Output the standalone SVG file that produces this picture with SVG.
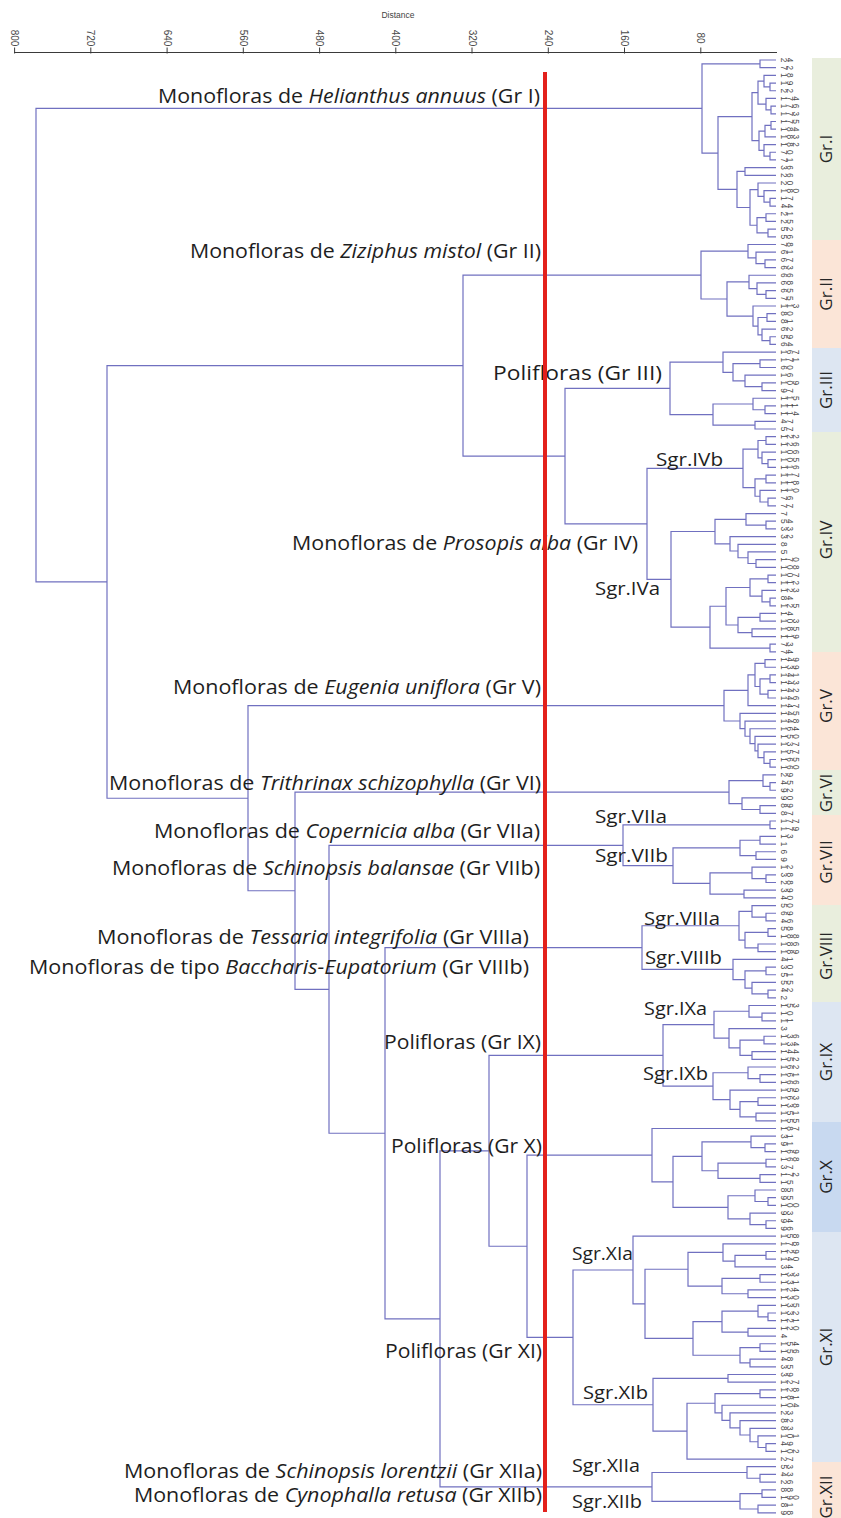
<svg xmlns="http://www.w3.org/2000/svg" width="841" height="1518" viewBox="0 0 841 1518">
<style>
.t{fill:none;stroke:#7070c0;stroke-width:1.2;vector-effect:non-scaling-stroke;stroke-linejoin:miter}
.lb{font-family:"Open Sans","Liberation Sans",sans-serif;font-size:20px;fill:#1e1e1e}
.sg{font-family:"Open Sans","Liberation Sans",sans-serif;font-size:19px;fill:#1e1e1e}
.it{font-style:italic}
.ax{font-family:"Liberation Sans",Arial,sans-serif;font-size:10px;fill:#4a4a4a}
.lf{font-family:"Liberation Sans",Arial,sans-serif;font-size:8.2px;fill:#484848;letter-spacing:1.5px}
.bt{font-family:"Open Sans","Liberation Sans",sans-serif;font-size:17px;fill:#262626}
.green{fill:#e9eedd}.peach{fill:#fbe5d7}.blue{fill:#dde6f2}.blue2{fill:#c8d9f0}
</style>
<rect width="841" height="1518" fill="#ffffff"/>
<g id="axis">
<text x="398" y="18" text-anchor="middle" style="font-family:'Liberation Sans',Arial,sans-serif;font-size:8.5px;fill:#444">Distance</text>
<path d="M14 52.5H777" stroke="#3a3a3a" stroke-width="1.2" fill="none"/>
<path d="M14.6 47.5V53.5M90.8 47.5V53.5M167.1 47.5V53.5M243.3 47.5V53.5M319.6 47.5V53.5M395.8 47.5V53.5M472 47.5V53.5M548.3 47.5V53.5M624.5 47.5V53.5M700.8 47.5V53.5" stroke="#3a3a3a" stroke-width="1" fill="none"/>
<text class="ax" text-anchor="middle" dominant-baseline="central" transform="translate(14.6,38) rotate(90)">800</text>
<text class="ax" text-anchor="middle" dominant-baseline="central" transform="translate(90.8,38) rotate(90)">720</text>
<text class="ax" text-anchor="middle" dominant-baseline="central" transform="translate(167.1,38) rotate(90)">640</text>
<text class="ax" text-anchor="middle" dominant-baseline="central" transform="translate(243.3,38) rotate(90)">560</text>
<text class="ax" text-anchor="middle" dominant-baseline="central" transform="translate(319.6,38) rotate(90)">480</text>
<text class="ax" text-anchor="middle" dominant-baseline="central" transform="translate(395.8,38) rotate(90)">400</text>
<text class="ax" text-anchor="middle" dominant-baseline="central" transform="translate(472,38) rotate(90)">320</text>
<text class="ax" text-anchor="middle" dominant-baseline="central" transform="translate(548.3,38) rotate(90)">240</text>
<text class="ax" text-anchor="middle" dominant-baseline="central" transform="translate(624.5,38) rotate(90)">160</text>
<text class="ax" text-anchor="middle" dominant-baseline="central" transform="translate(700.8,38) rotate(90)">80</text>
</g>
<g id="bands">
<g id="band-I"><rect class="green" x="812" y="58" width="29" height="182"/><text class="bt" text-anchor="middle" transform="translate(832,149) rotate(-90)">Gr.I</text></g>
<g id="band-II"><rect class="peach" x="812" y="240" width="29" height="108"/><text class="bt" text-anchor="middle" transform="translate(832,294) rotate(-90)">Gr.II</text></g>
<g id="band-III"><rect class="blue" x="812" y="348" width="29" height="84"/><text class="bt" text-anchor="middle" transform="translate(832,390) rotate(-90)">Gr.III</text></g>
<g id="band-IV"><rect class="green" x="812" y="432" width="29" height="220"/><text class="bt" text-anchor="middle" transform="translate(832,540) rotate(-90)">Gr.IV</text></g>
<g id="band-V"><rect class="peach" x="812" y="652" width="29" height="118"/><text class="bt" text-anchor="middle" transform="translate(832,706) rotate(-90)">Gr.V</text></g>
<g id="band-VI"><rect class="green" x="812" y="770" width="29" height="45"/><text class="bt" text-anchor="middle" transform="translate(832,793) rotate(-90)">Gr.VI</text></g>
<g id="band-VII"><rect class="peach" x="812" y="815" width="29" height="90"/><text class="bt" text-anchor="middle" transform="translate(832,862) rotate(-90)">Gr.VII</text></g>
<g id="band-VIII"><rect class="green" x="812" y="905" width="29" height="97"/><text class="bt" text-anchor="middle" transform="translate(832,956) rotate(-90)">Gr.VIII</text></g>
<g id="band-IX"><rect class="blue" x="812" y="1002" width="29" height="120"/><text class="bt" text-anchor="middle" transform="translate(832,1062) rotate(-90)">Gr.IX</text></g>
<g id="band-X"><rect class="blue2" x="812" y="1122" width="29" height="110"/><text class="bt" text-anchor="middle" transform="translate(832,1177) rotate(-90)">Gr.X</text></g>
<g id="band-XI"><rect class="blue" x="812" y="1232" width="29" height="230"/><text class="bt" text-anchor="middle" transform="translate(832,1347) rotate(-90)">Gr.XI</text></g>
<g id="band-XII"><rect class="peach" x="812" y="1462" width="29" height="56"/><text class="bt" text-anchor="middle" transform="translate(832,1497) rotate(-90)">Gr.XII</text></g>
</g>
<g id="connectors" transform="translate(0,60) scale(1,7.687)">
<path id="tree-GrI" class="t" d="M776 0H760V1H776M776 3H770V4H776M776 2H764V3.5H770M776 6H771V7H776M776 5H766V6.5H771M764 2.75H758V5.75H766M776 8H771V9H776M771 8.5H765V10H776M776 12H770V13H776M776 11H764V12.5H770M765 9.25H759V11.75H764M758 4.25H752V10.5H759M776 14H745V15H776M776 18H770V19H776M776 17H764V18.5H770M776 16H758V17.75H764M776 20H766V21H776M776 22H768V23H776M766 20.5H757V22.5H768M758 16.875H750V21.5H757M745 14.5H737V19.19H750M752 7.375H718V16.84H737M760 0.5H702V12.11H718"/>
<path id="tree-GrII" class="t" d="M776 26H765V27H776M776 25H756V26.5H765M776 24H748V25.75H756M776 30H766V31H776M776 29H757V30.5H766M776 28H749V29.75H757M776 33H767V34H776M776 36H770V37H776M776 35H762V36.5H770M767 33.5H758V35.75H762M776 32H753V34.625H758M749 28.875H727V33.3125H753M748 24.875H701V31.094H727"/>
<path id="tree-GrIII" class="t" d="M776 39H760V40H776M776 42H762V43H776M776 41H745V42.5H762M760 39.5H733V41.75H745M776 38H723V40.625H733M776 45H765V46H776M776 44H753V45.5H765M776 47H755V48H776M753 44.75H713V47.5H755M723 39.3125H670V46.125H713"/>
<path id="tree-GrIV" class="t" d="M776 49H766V50H776M776 52H768V53H776M776 51H762V52.5H768M766 49.5H758V51.75H762M776 54H766V55H776M776 57H768V58H776M776 56H760V57.5H768M766 54.5H755V56.75H760M758 50.625H743V55.625H755M776 60H766V61H776M776 59H746V60.5H766M776 65H756V66H776M776 64H748V65.5H756M776 63H738V64.75H748M776 62H730V63.875H738M746 59.75H715V62.9375H730M776 67H768V68H776M776 70H770V71H776M776 69H762V70.5H770M768 67.5H750V69.75H762M776 72H760V73H776M776 74H752V75H776M760 72.5H738V74.5H752M750 68.625H726V73.5H738M776 76H770V77H776M726 71.0625H710V76.5H770M715 61.34H671V73.78H710M743 53.125H647V67.56H671"/>
<path id="tree-GrV" class="t" d="M776 78H765V79H776M776 80H770V81H776M776 82H768V83H776M770 80.5H760V82.5H768M765 78.5H755V81.5H760M755 80H748V84H776M776 91H770V92H776M776 90H764V91.5H770M776 89H758V90.75H764M776 88H755V89.875H758M776 87H750V88.9375H755M776 86H745V87.97H750M776 85H740V86.985H745M748 82H724V85.99H740"/>
<path id="tree-GrVI" class="t" d="M776 94H770V95H776M776 93H763V94.5H770M776 97H760V98H776M776 96H742V97.5H760M763 93.75H729V96.75H742"/>
<path id="tree-GrVII" class="t" d="M776 99H770V100H776M776 101H760V102H776M776 103H756V104H776M760 101.5H740V103.5H756M776 106H766V107H776M776 105H752V106.5H766M776 108H744V109H776M752 105.75H710V108.5H744M740 102.5H673V107.125H710M770 99.5H623V104.81H673"/>
<path id="tree-GrVIII" class="t" d="M776 111H766V112H776M776 110H752V111.5H766M776 113H768V114H776M776 115H758V116H776M768 113.5H745V115.5H758M752 110.75H739V114.5H745M776 118H766V119H776M776 121H768V122H776M776 120H752V121.5H768M766 118.5H745V120.75H752M776 117H733V119.625H745M739 112.625H642V118.31H733"/>
<path id="tree-GrIX" class="t" d="M776 124H762V125H776M776 123H749V124.5H762M776 127H764V128H776M776 129H752V130H776M764 127.5H740V129.5H752M776 126H729V128.5H740M749 123.75H714V127.25H729M776 132H760V133H776M776 131H748V132.5H760M776 135H758V136H776M776 137H756V138H776M758 135.5H740V137.5H756M776 134H730V136.5H740M748 131.75H713V135.25H730M714 125.5H663V133.5H713"/>
<path id="tree-GrX" class="t" d="M776 141H765V142H776M776 140H751V141.5H765M776 143H766V144H776M776 145H760V146H776M766 143.5H718V145.5H760M751 140.75H702V144.5H718M776 148H768V149H776M776 147H755V148.5H768M776 151H766V152H776M776 150H750V151.5H766M755 147.75H728V150.75H750M702 142.625H673V149.25H728M776 139H652V145.94H673"/>
<path id="tree-GrXI" class="t" d="M776 155H766V156H776M766 155.5H735V157H776M776 154H723V156.25H735M776 158H760V159H776M776 160H748V161H776M760 158.5H722V160.5H748M723 155.125H688V159.5H722M776 163H768V164H776M776 162H758V163.5H768M776 165H748V166H776M758 162.75H722V165.5H748M776 167H760V168H776M776 169H750V170H776M760 167.5H740V169.5H750M722 164.125H693V168.5H740M688 157.31H645V166.31H693M776 153H633V161.81H645M776 171H728V172H776M776 180H766V181H776M776 179H758V180.5H766M776 178H750V179.75H758M776 177H740V178.875H750M776 176H730V177.94H740M776 175H722V176.97H730M776 173H760V174H776M760 173.5H715V175.985H722M715 174.74H687V182H776M728 171.5H653V178.37H687M633 157.41H573V174.94H653"/>
<path id="tree-GrXII" class="t" d="M776 184H760V185H776M776 183H747V184.5H760M776 186H762V187H776M776 188H758V189H776M762 186.5H740V188.5H758M747 183.75H652V187.5H740"/>
<path id="tree-main" class="t" d="M670 42.72H565V60.34H647M652 142.47H527V166.17H573M663 129.5H489V154.32H527M489 141.91H440V185.625H652M642 115.47H385V163.77H440M623 102.16H329V139.62H385M729 95.25H295V120.89H329M724 84H248V108.07H295M701 27.98H463V51.53H565M463 39.755H107V96.04H248M702 6.305H36V67.9H107"/>
</g>
<g id="leaves">
<text class="lf" x="781" y="57.7" rotate="90"><tspan x="781">24</tspan><tspan x="781" dy="7.687">72</tspan><tspan x="781" dy="7.687">18</tspan><tspan x="781" dy="7.687">19</tspan><tspan x="781" dy="7.687">22</tspan><tspan x="781" dy="7.687">174</tspan><tspan x="781" dy="7.687">176</tspan><tspan x="781" dy="7.687">173</tspan><tspan x="781" dy="7.687">175</tspan><tspan x="781" dy="7.687">184</tspan><tspan x="781" dy="7.687">183</tspan><tspan x="781" dy="7.687">182</tspan><tspan x="781" dy="7.687">70</tspan><tspan x="781" dy="7.687">71</tspan><tspan x="781" dy="7.687">36</tspan><tspan x="781" dy="7.687">26</tspan><tspan x="781" dy="7.687">20</tspan><tspan x="781" dy="7.687">180</tspan><tspan x="781" dy="7.687">17</tspan><tspan x="781" dy="7.687">44</tspan><tspan x="781" dy="7.687">21</tspan><tspan x="781" dy="7.687">25</tspan><tspan x="781" dy="7.687">52</tspan><tspan x="781" dy="7.687">56</tspan><tspan x="781" dy="7.687">78</tspan><tspan x="781" dy="7.687">61</tspan><tspan x="781" dy="7.687">67</tspan><tspan x="781" dy="7.687">63</tspan><tspan x="781" dy="7.687">66</tspan><tspan x="781" dy="7.687">68</tspan><tspan x="781" dy="7.687">65</tspan><tspan x="781" dy="7.687">75</tspan><tspan x="781" dy="7.687">113</tspan><tspan x="781" dy="7.687">80</tspan><tspan x="781" dy="7.687">81</tspan><tspan x="781" dy="7.687">62</tspan><tspan x="781" dy="7.687">59</tspan><tspan x="781" dy="7.687">64</tspan><tspan x="781" dy="7.687">167</tspan><tspan x="781" dy="7.687">171</tspan><tspan x="781" dy="7.687">60</tspan><tspan x="781" dy="7.687">16</tspan><tspan x="781" dy="7.687">109</tspan><tspan x="781" dy="7.687">97</tspan><tspan x="781" dy="7.687">115</tspan><tspan x="781" dy="7.687">111</tspan><tspan x="781" dy="7.687">114</tspan><tspan x="781" dy="7.687">47</tspan><tspan x="781" dy="7.687">57</tspan><tspan x="781" dy="7.687">122</tspan><tspan x="781" dy="7.687">126</tspan><tspan x="781" dy="7.687">106</tspan><tspan x="781" dy="7.687">105</tspan><tspan x="781" dy="7.687">116</tspan><tspan x="781" dy="7.687">117</tspan><tspan x="781" dy="7.687">118</tspan><tspan x="781" dy="7.687">110</tspan><tspan x="781" dy="7.687">76</tspan><tspan x="781" dy="7.687">77</tspan><tspan x="781" dy="7.687">7</tspan><tspan x="781" dy="7.687">54</tspan><tspan x="781" dy="7.687">33</tspan><tspan x="781" dy="7.687">32</tspan><tspan x="781" dy="7.687">8</tspan><tspan x="781" dy="7.687">5</tspan><tspan x="781" dy="7.687">170</tspan><tspan x="781" dy="7.687">108</tspan><tspan x="781" dy="7.687">107</tspan><tspan x="781" dy="7.687">112</tspan><tspan x="781" dy="7.687">123</tspan><tspan x="781" dy="7.687">84</tspan><tspan x="781" dy="7.687">125</tspan><tspan x="781" dy="7.687">14</tspan><tspan x="781" dy="7.687">103</tspan><tspan x="781" dy="7.687">185</tspan><tspan x="781" dy="7.687">119</tspan><tspan x="781" dy="7.687">73</tspan><tspan x="781" dy="7.687">74</tspan><tspan x="781" dy="7.687">149</tspan><tspan x="781" dy="7.687">139</tspan><tspan x="781" dy="7.687">141</tspan><tspan x="781" dy="7.687">143</tspan><tspan x="781" dy="7.687">142</tspan><tspan x="781" dy="7.687">146</tspan><tspan x="781" dy="7.687">147</tspan><tspan x="781" dy="7.687">145</tspan><tspan x="781" dy="7.687">148</tspan><tspan x="781" dy="7.687">164</tspan><tspan x="781" dy="7.687">150</tspan><tspan x="781" dy="7.687">137</tspan><tspan x="781" dy="7.687">157</tspan><tspan x="781" dy="7.687">165</tspan><tspan x="781" dy="7.687">160</tspan><tspan x="781" dy="7.687">29</tspan><tspan x="781" dy="7.687">45</tspan><tspan x="781" dy="7.687">92</tspan><tspan x="781" dy="7.687">90</tspan><tspan x="781" dy="7.687">89</tspan><tspan x="781" dy="7.687">87</tspan><tspan x="781" dy="7.687">177</tspan><tspan x="781" dy="7.687">179</tspan><tspan x="781" dy="7.687">13</tspan><tspan x="781" dy="7.687">1</tspan><tspan x="781" dy="7.687">6</tspan><tspan x="781" dy="7.687">9</tspan><tspan x="781" dy="7.687">12</tspan><tspan x="781" dy="7.687">38</tspan><tspan x="781" dy="7.687">28</tspan><tspan x="781" dy="7.687">39</tspan><tspan x="781" dy="7.687">40</tspan><tspan x="781" dy="7.687">50</tspan><tspan x="781" dy="7.687">69</tspan><tspan x="781" dy="7.687">46</tspan><tspan x="781" dy="7.687">58</tspan><tspan x="781" dy="7.687">188</tspan><tspan x="781" dy="7.687">186</tspan><tspan x="781" dy="7.687">189</tspan><tspan x="781" dy="7.687">41</tspan><tspan x="781" dy="7.687">30</tspan><tspan x="781" dy="7.687">51</tspan><tspan x="781" dy="7.687">55</tspan><tspan x="781" dy="7.687">42</tspan><tspan x="781" dy="7.687">2</tspan><tspan x="781" dy="7.687">153</tspan><tspan x="781" dy="7.687">10</tspan><tspan x="781" dy="7.687">11</tspan><tspan x="781" dy="7.687">3</tspan><tspan x="781" dy="7.687">136</tspan><tspan x="781" dy="7.687">134</tspan><tspan x="781" dy="7.687">144</tspan><tspan x="781" dy="7.687">152</tspan><tspan x="781" dy="7.687">162</tspan><tspan x="781" dy="7.687">161</tspan><tspan x="781" dy="7.687">166</tspan><tspan x="781" dy="7.687">159</tspan><tspan x="781" dy="7.687">163</tspan><tspan x="781" dy="7.687">138</tspan><tspan x="781" dy="7.687">151</tspan><tspan x="781" dy="7.687">155</tspan><tspan x="781" dy="7.687">187</tspan><tspan x="781" dy="7.687">31</tspan><tspan x="781" dy="7.687">91</tspan><tspan x="781" dy="7.687">169</tspan><tspan x="781" dy="7.687">168</tspan><tspan x="781" dy="7.687">37</tspan><tspan x="781" dy="7.687">172</tspan><tspan x="781" dy="7.687">15</tspan><tspan x="781" dy="7.687">85</tspan><tspan x="781" dy="7.687">95</tspan><tspan x="781" dy="7.687">100</tspan><tspan x="781" dy="7.687">93</tspan><tspan x="781" dy="7.687">94</tspan><tspan x="781" dy="7.687">96</tspan><tspan x="781" dy="7.687">158</tspan><tspan x="781" dy="7.687">178</tspan><tspan x="781" dy="7.687">129</tspan><tspan x="781" dy="7.687">140</tspan><tspan x="781" dy="7.687">34</tspan><tspan x="781" dy="7.687">133</tspan><tspan x="781" dy="7.687">131</tspan><tspan x="781" dy="7.687">124</tspan><tspan x="781" dy="7.687">130</tspan><tspan x="781" dy="7.687">135</tspan><tspan x="781" dy="7.687">132</tspan><tspan x="781" dy="7.687">121</tspan><tspan x="781" dy="7.687">120</tspan><tspan x="781" dy="7.687">4</tspan><tspan x="781" dy="7.687">154</tspan><tspan x="781" dy="7.687">156</tspan><tspan x="781" dy="7.687">48</tspan><tspan x="781" dy="7.687">35</tspan><tspan x="781" dy="7.687">39</tspan><tspan x="781" dy="7.687">127</tspan><tspan x="781" dy="7.687">128</tspan><tspan x="781" dy="7.687">181</tspan><tspan x="781" dy="7.687">104</tspan><tspan x="781" dy="7.687">23</tspan><tspan x="781" dy="7.687">82</tspan><tspan x="781" dy="7.687">83</tspan><tspan x="781" dy="7.687">101</tspan><tspan x="781" dy="7.687">49</tspan><tspan x="781" dy="7.687">102</tspan><tspan x="781" dy="7.687">27</tspan><tspan x="781" dy="7.687">53</tspan><tspan x="781" dy="7.687">43</tspan><tspan x="781" dy="7.687">26</tspan><tspan x="781" dy="7.687">88</tspan><tspan x="781" dy="7.687">190</tspan><tspan x="781" dy="7.687">81</tspan><tspan x="781" dy="7.687">98</tspan></text>
</g>
<g id="labels">
<g id="lab-GrI"><text class="lb" x="158" y="103" textLength="382" lengthAdjust="spacingAndGlyphs">Monofloras de <tspan class="it">Helianthus annuus</tspan> (Gr I)</text></g>
<g id="lab-GrII"><text class="lb" x="190" y="258" textLength="351" lengthAdjust="spacingAndGlyphs">Monofloras de <tspan class="it">Ziziphus mistol</tspan> (Gr II)</text></g>
<g id="lab-GrIII"><text class="lb" x="493" y="380" textLength="169" lengthAdjust="spacingAndGlyphs">Polifloras (Gr III)</text></g>
<g id="lab-GrIV"><text class="lb" x="292" y="550" textLength="346" lengthAdjust="spacingAndGlyphs">Monofloras de <tspan class="it">Prosopis alba</tspan> (Gr IV)</text></g>
<g id="lab-GrV"><text class="lb" x="173" y="694" textLength="368" lengthAdjust="spacingAndGlyphs">Monofloras de <tspan class="it">Eugenia uniflora</tspan> (Gr V)</text></g>
<g id="lab-GrVI"><text class="lb" x="109" y="790" textLength="432" lengthAdjust="spacingAndGlyphs">Monofloras de <tspan class="it">Trithrinax schizophylla</tspan> (Gr VI)</text></g>
<g id="lab-GrVIIa"><text class="lb" x="154" y="838" textLength="386" lengthAdjust="spacingAndGlyphs">Monofloras de <tspan class="it">Copernicia alba</tspan> (Gr VIIa)</text></g>
<g id="lab-GrVIIb"><text class="lb" x="112" y="875" textLength="428" lengthAdjust="spacingAndGlyphs">Monofloras de <tspan class="it">Schinopsis balansae</tspan> (Gr VIIb)</text></g>
<g id="lab-GrVIIIa"><text class="lb" x="97" y="944" textLength="432" lengthAdjust="spacingAndGlyphs">Monofloras de <tspan class="it">Tessaria integrifolia</tspan> (Gr VIIIa)</text></g>
<g id="lab-GrVIIIb"><text class="lb" x="29" y="974" textLength="500" lengthAdjust="spacingAndGlyphs">Monofloras de tipo <tspan class="it">Baccharis-Eupatorium</tspan> (Gr VIIIb)</text></g>
<g id="lab-GrIX"><text class="lb" x="384" y="1049" textLength="157" lengthAdjust="spacingAndGlyphs">Polifloras (Gr IX)</text></g>
<g id="lab-GrX"><text class="lb" x="391" y="1153" textLength="151" lengthAdjust="spacingAndGlyphs">Polifloras (Gr X)</text></g>
<g id="lab-GrXI"><text class="lb" x="385" y="1358" textLength="157" lengthAdjust="spacingAndGlyphs">Polifloras (Gr XI)</text></g>
<g id="lab-GrXIIa"><text class="lb" x="124" y="1478" textLength="418" lengthAdjust="spacingAndGlyphs">Monofloras de <tspan class="it">Schinopsis lorentzii</tspan> (Gr XIIa)</text></g>
<g id="lab-GrXIIb"><text class="lb" x="134" y="1502" textLength="408" lengthAdjust="spacingAndGlyphs">Monofloras de <tspan class="it">Cynophalla retusa</tspan> (Gr XIIb)</text></g>
<g id="lab-SgrIVb"><text class="sg" x="656" y="466" textLength="67" lengthAdjust="spacingAndGlyphs">Sgr.IVb</text></g>
<g id="lab-SgrIVa"><text class="sg" x="595" y="595" textLength="65" lengthAdjust="spacingAndGlyphs">Sgr.IVa</text></g>
<g id="lab-SgrVIIa"><text class="sg" x="595" y="823" textLength="72" lengthAdjust="spacingAndGlyphs">Sgr.VIIa</text></g>
<g id="lab-SgrVIIb"><text class="sg" x="595" y="862" textLength="73" lengthAdjust="spacingAndGlyphs">Sgr.VIIb</text></g>
<g id="lab-SgrVIIIa"><text class="sg" x="644" y="925" textLength="76" lengthAdjust="spacingAndGlyphs">Sgr.VIIIa</text></g>
<g id="lab-SgrVIIIb"><text class="sg" x="645" y="964" textLength="77" lengthAdjust="spacingAndGlyphs">Sgr.VIIIb</text></g>
<g id="lab-SgrIXa"><text class="sg" x="644" y="1015" textLength="63" lengthAdjust="spacingAndGlyphs">Sgr.IXa</text></g>
<g id="lab-SgrIXb"><text class="sg" x="643" y="1080" textLength="65" lengthAdjust="spacingAndGlyphs">Sgr.IXb</text></g>
<g id="lab-SgrXIa"><text class="sg" x="572" y="1260" textLength="61" lengthAdjust="spacingAndGlyphs">Sgr.XIa</text></g>
<g id="lab-SgrXIb"><text class="sg" x="583" y="1399" textLength="65" lengthAdjust="spacingAndGlyphs">Sgr.XIb</text></g>
<g id="lab-SgrXIIa"><text class="sg" x="572" y="1472" textLength="68" lengthAdjust="spacingAndGlyphs">Sgr.XIIa</text></g>
<g id="lab-SgrXIIb"><text class="sg" x="572" y="1508" textLength="70" lengthAdjust="spacingAndGlyphs">Sgr.XIIb</text></g>
</g>
<g id="cut-line"><rect x="543" y="72" width="4" height="1440" fill="#e3211c"/></g>
</svg>
